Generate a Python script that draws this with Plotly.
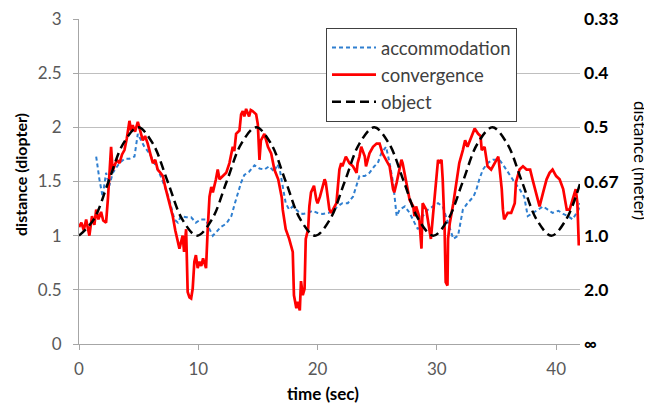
import plotly.graph_objects as go

# ---------------- data ----------------
conv_t = [0.0, 0.2, 0.4, 0.6, 0.87, 1.09, 1.29, 1.44, 1.63, 1.85, 2.03, 2.27, 2.43, 2.54, 2.69, 2.82, 2.97,
          3.17, 3.39, 3.61, 3.81, 4.01, 4.23, 4.36, 4.5, 4.7, 4.93, 5.15, 5.35, 5.54, 5.76, 5.99, 6.19,
          6.39, 6.6, 6.83, 7.03, 7.23, 7.44, 7.67, 7.86, 8.07, 8.29, 8.42, 8.69, 8.81, 8.98, 9.11, 9.26,
          9.4, 9.53, 9.67, 9.8, 9.95, 10.1, 10.25, 10.4, 10.65, 10.79, 10.94, 11.09, 11.22, 11.48, 11.63,
          11.78, 12.06, 12.34, 12.61, 12.89, 13.02, 13.17, 13.45, 13.59, 13.73, 13.86, 14.01, 14.26, 14.4,
          14.55, 14.85, 14.99, 15.13, 15.25, 15.54, 15.84, 16.11, 16.38, 16.7, 17.0, 17.08, 17.33, 17.62,
          17.92, 18.02, 18.22, 18.32, 18.51, 18.61, 18.76, 18.91, 19.01, 19.21, 19.31, 19.45, 19.6, 19.7,
          19.9, 20.0, 20.2, 20.44, 20.59, 20.69, 20.89, 20.99, 21.14, 21.29, 21.58, 21.83, 21.98, 22.08,
          22.37, 22.67, 22.97, 23.27, 23.36, 23.51, 23.66, 23.96, 24.06, 24.35, 24.65, 24.95, 25.2, 25.44,
          25.74, 26.04, 26.33, 26.43, 26.63, 26.88, 27.03, 27.13, 27.42, 27.72, 28.02, 28.12, 28.26, 28.51,
          28.71, 28.81, 29.11, 29.4, 29.5, 29.67, 29.95, 30.1, 30.2, 30.39, 30.49, 30.65, 30.74, 30.89,
          30.94, 31.09, 31.38, 31.68, 31.88, 32.18, 32.37, 32.57, 32.87, 33.17, 33.46, 33.66, 33.76, 34.0,
          34.25, 34.55, 34.85, 35.15, 35.24, 35.44, 35.54, 35.64, 35.94, 36.23, 36.53, 36.63, 36.93, 37.22,
          37.52, 37.82, 38.02, 38.31, 38.61, 38.91, 39.2, 39.45, 39.7, 40.0, 40.29, 40.59, 40.89, 41.13,
          41.38, 41.64, 41.78, 41.9]
conv_v = [1.08, 1.12, 1.05, 1.15, 1.0, 1.18, 1.1, 1.24, 1.15, 1.22, 1.14, 1.12, 1.35, 1.52, 1.82, 1.6, 1.64,
          1.7, 1.67, 1.75, 1.79, 1.9, 2.06, 1.97, 2.02, 1.96, 2.05, 1.95, 1.88, 1.92, 1.85, 1.75, 1.67,
          1.7, 1.61, 1.58, 1.55, 1.45, 1.36, 1.25, 1.18, 1.05, 0.94, 0.88, 1.0, 0.85, 1.06, 0.48, 0.43,
          0.42, 0.51, 0.76, 0.82, 0.7, 0.76, 0.72, 0.79, 0.7, 1.06, 1.36, 1.45, 1.4, 1.52, 1.61,
          1.52, 1.55, 1.58, 1.67, 1.82, 1.78, 1.94, 1.97, 2.12, 2.15, 2.1, 2.17, 2.1, 2.16,
          2.15, 2.12, 2.03, 1.7, 1.88, 1.94, 1.82, 1.76, 1.61, 1.52, 1.35, 1.24, 1.06, 0.97,
          0.85, 0.45, 0.33, 0.39, 0.31, 0.58, 0.45, 0.51, 0.97, 1.06, 1.27, 1.4, 1.43, 1.46,
          1.33, 1.3, 1.36, 1.46, 1.52, 1.49, 1.33, 1.24, 1.21, 1.24, 1.3, 1.61, 1.67, 1.64,
          1.73, 1.67, 1.64, 1.58, 1.67, 1.73, 1.82, 1.73, 1.64, 1.76, 1.82, 1.85, 1.85, 1.76,
          1.7, 1.64, 1.43, 1.4, 1.49, 1.64, 1.7, 1.67, 1.49, 1.33, 1.27, 1.18, 1.27, 1.18,
          0.88, 1.3, 1.24, 1.06, 0.97, 1.18, 1.52, 1.7, 1.67, 1.7, 1.52, 1.06, 0.57, 0.54,
          0.97, 1.12, 1.3, 1.52, 1.67, 1.79, 1.88, 1.82, 1.91, 1.99, 1.94, 1.92, 1.79, 1.82,
          1.64, 1.61, 1.67, 1.73, 1.64, 1.43, 1.24, 1.15, 1.21, 1.21, 1.3, 1.49, 1.61, 1.64,
          1.61, 1.61, 1.52, 1.4, 1.27, 1.4, 1.52, 1.58, 1.61, 1.55, 1.52, 1.43, 1.24, 1.24,
          1.33, 1.43, 1.3, 0.91]

acc_t = [1.44, 1.58, 1.71, 1.98, 2.27, 2.54, 2.83, 3.39, 3.81, 4.23, 4.65, 4.93, 5.21, 5.48, 5.91, 6.34,
         6.73, 7.17, 7.58, 8.0, 8.29, 8.55, 8.98, 9.4, 9.8, 10.2, 10.65, 10.94, 11.22, 11.48, 11.88,
         12.34, 12.77, 13.07, 13.32, 13.59, 13.86, 14.26, 14.71, 15.13, 15.54, 15.94, 16.38, 16.63,
         16.83, 17.08, 17.33, 17.62, 17.92, 18.22, 18.51, 18.76, 19.21, 19.6, 20.0, 20.44, 20.89,
         21.29, 21.68, 22.08, 22.53, 22.97, 23.27, 23.51, 23.96, 24.35, 24.75, 25.05, 25.34, 25.74,
         26.04, 26.33, 26.63, 26.88, 27.32, 27.72, 28.12, 28.41, 28.81, 29.25, 29.67, 30.1, 30.49,
         30.94, 31.38, 31.78, 32.18, 32.57, 33.07, 33.3, 33.56, 33.86, 34.25, 34.7, 35.24, 35.64,
         36.14, 36.53, 36.93, 37.32, 37.62, 38.02, 38.51, 38.91, 39.3, 39.7, 40.19, 40.59, 40.99,
         41.38, 41.88, 42.0]
acc_v = [1.73, 1.6, 1.52, 1.36, 1.58, 1.46, 1.58, 1.67, 1.71, 1.71, 1.73, 1.94, 1.88, 1.82, 1.76, 1.67,
         1.58, 1.46, 1.33, 1.15, 1.12, 1.18, 1.17, 1.17, 1.12, 1.15, 1.15, 1.06, 1.0, 1.03, 1.08,
         1.11, 1.18, 1.3, 1.4, 1.49, 1.56, 1.59, 1.65, 1.62, 1.61, 1.64, 1.59, 1.66,
         1.61, 1.46, 1.3, 1.24, 1.27, 1.24, 1.21, 1.2, 1.21, 1.23, 1.21, 1.2, 1.21,
         1.23, 1.27, 1.3, 1.3, 1.36, 1.46, 1.55, 1.55, 1.58, 1.64, 1.67, 1.76, 1.82,
         1.67, 1.49, 1.18, 1.24, 1.27, 1.21, 1.12, 1.06, 1.18, 1.24, 1.27, 1.3, 1.27,
         1.12, 0.97, 1.0, 1.24, 1.3, 1.36, 1.42, 1.52, 1.61, 1.67, 1.7, 1.7, 1.64,
         1.55, 1.49, 1.43, 1.36, 1.18, 1.21, 1.24, 1.27, 1.24, 1.21, 1.23, 1.2, 1.18,
         1.15, 1.24, 1.3]

obj_t = [0, 1.24, 2.48, 3.71, 4.95, 6.19, 7.43, 8.66, 9.9, 11.14, 12.38, 13.61, 14.85, 16.09, 17.33,
         18.56, 19.8, 21.04, 22.28, 23.51, 24.75, 25.99, 27.23, 28.46, 29.7, 30.94, 32.18, 33.41,
         34.65, 35.89, 37.13, 38.36, 39.6, 40.84, 42.0]
obj_v = [1.0, 1.15, 1.5, 1.85, 2.0, 1.85, 1.5, 1.15, 1.0, 1.15, 1.5, 1.85, 2.0, 1.85, 1.5,
         1.15, 1.0, 1.15, 1.5, 1.85, 2.0, 1.85, 1.5, 1.15, 1.0, 1.15, 1.5, 1.85,
         2.0, 1.85, 1.5, 1.15, 1.0, 1.15, 1.48]

y_ticks = [0, 0.5, 1, 1.5, 2, 2.5, 3]
y_ticktext = ["0", "0.5", "1", "1.5", "2", "2.5", "3"]
meter_ticktext = ["∞", "2.0", "1.0", "0.67", "0.5", "0.4", "0.33"]
x_ticks = [0, 10, 20, 30, 40]

# ---------------- figure ----------------
FONT = "Lato"
fig = go.Figure()
fig.add_trace(go.Scatter(x=acc_t, y=acc_v, name="accommodation", mode="lines",
                         line=dict(color="#2F7FD0", width=2, dash="4px,3px")))
fig.add_trace(go.Scatter(x=conv_t, y=conv_v, name="convergence", mode="lines",
                         line=dict(color="#FF0000", width=2.7)))
fig.add_trace(go.Scatter(x=obj_t, y=obj_v, name="object", mode="lines",
                         line=dict(color="#000000", width=2.5, dash="9px,5px", shape="spline", smoothing=1)))
fig.add_trace(go.Scatter(x=[0], y=[0], yaxis="y2", mode="markers", marker=dict(opacity=0),
                         showlegend=False, hoverinfo="skip"))

# the page body has an 8px margin: the figure is sized/positioned to compensate
OFF = 8
W, H = 644, 400
L, T = 79 - OFF, 19 - OFF
R = W - (580 - OFF)
B = H - (344 - OFF)
pw, ph = W - L - R, H - T - B

def px(sx):
    return (sx - OFF - L) / pw

def py(sy):
    return (H - B - (sy - OFF)) / ph

fig.update_layout(
    width=W, height=H,
    margin=dict(l=L, r=R, t=T, b=B, pad=0, autoexpand=False),
    paper_bgcolor="white", plot_bgcolor="white",
    font=dict(family=FONT, size=17, color="#595959"),
    showlegend=True,
    legend=dict(x=px(326), y=py(28), xanchor="left", yanchor="top",
                bgcolor="white", bordercolor="#404040", borderwidth=1,
                font=dict(family=FONT, size=18.5, color="#404040"),
                itemwidth=44, tracegroupgap=0),
    xaxis=dict(range=[0, 42], tickvals=x_ticks, ticks="outside", ticklen=5, tickcolor="#A6A6A6",
               showline=True, linecolor="#A6A6A6", linewidth=1, showgrid=False, zeroline=False,
               automargin=False, ticklabelstandoff=5,
               tickfont=dict(family=FONT, size=17, color="#595959")),
    yaxis=dict(range=[0, 3], tickvals=y_ticks, ticktext=y_ticktext, ticks="outside", ticklen=5,
               tickcolor="#A6A6A6", showline=True, linecolor="#A6A6A6", linewidth=1,
               showgrid=True, gridcolor="#BFBFBF", gridwidth=1, zeroline=False,
               ticklabelstandoff=8, automargin=False, ticklabeloverflow="allow",
               tickfont=dict(family=FONT, size=17, color="#595959")),
    yaxis2=dict(range=[0, 3], overlaying="y", side="right", tickvals=y_ticks, ticktext=meter_ticktext,
                ticks="", showline=False, showgrid=False, zeroline=False, ticklabelstandoff=3,
                automargin=False, ticklabeloverflow="allow",
                tickfont=dict(family=FONT, size=17.5, color="#000000", weight="bold")),
    annotations=[
        dict(text="<b>distance (diopter)</b>", xref="paper", yref="paper", x=px(20), y=py(175),
             textangle=-90, showarrow=False, xanchor="center", yanchor="middle",
             font=dict(family=FONT, size=16, color="#000000")),
        dict(text="distance (meter)", xref="paper", yref="paper", x=px(641), y=py(160),
             textangle=90, showarrow=False, xanchor="center", yanchor="middle",
             font=dict(family=FONT, size=17, color="#000000")),
        dict(text="<b>time (sec)</b>", xref="paper", yref="paper", x=px(323), y=py(393),
             showarrow=False, xanchor="center", yanchor="middle",
             font=dict(family=FONT, size=17, color="#000000")),
    ],
)

fig.write_html("out.html")
